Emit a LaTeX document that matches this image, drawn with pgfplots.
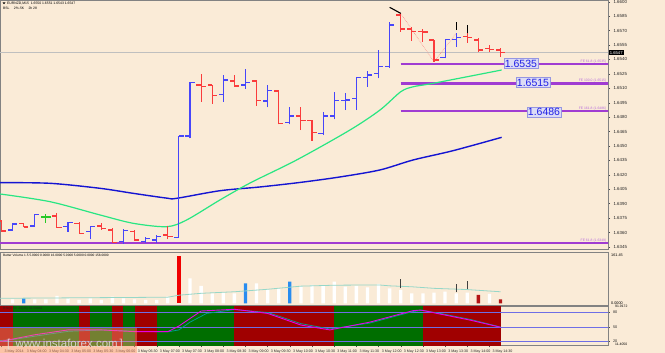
\documentclass[border=0pt]{standalone}
\usepackage{pgfplots}
\pgfplotsset{compat=1.18}
\usepackage{pgfplotstable}
\usepackage{fontspec}
\setmainfont{Liberation Sans}
\definecolor{cream}{RGB}{250,235,215}
\definecolor{upc}{RGB}{70,70,250}
\definecolor{dnc}{RGB}{250,60,60}
\definecolor{dojic}{RGB}{40,200,40}
\definecolor{maBlue}{RGB}{20,20,210}
\definecolor{maGreen}{RGB}{40,230,130}
\definecolor{lvl}{RGB}{160,60,210}
\definecolor{frame}{RGB}{130,130,130}
\definecolor{rsiRed}{RGB}{160,0,0}
\definecolor{rsiGreen}{RGB}{0,110,0}
\definecolor{rsiMag}{RGB}{230,0,230}
\definecolor{rsiTeal}{RGB}{0,160,150}
\definecolor{rsiLine}{RGB}{110,110,230}
\definecolor{volMA}{RGB}{150,215,200}
\definecolor{volBlue}{RGB}{40,140,240}
\definecolor{volRed}{RGB}{240,0,0}
\definecolor{volDark}{RGB}{180,20,20}
\definecolor{lvlText}{RGB}{30,30,230}
\definecolor{lvlBox}{RGB}{220,220,245}
\definecolor{lvlBorder}{RGB}{150,150,225}
\definecolor{salmon}{RGB}{250,140,140}
\definecolor{wm}{RGB}{255,150,110}

\pgfplotstableread{
t o h l c
1 1.63627 1.63700 1.63622 1.63689
3 1.63668 1.63793 1.63668 1.63783
6 1.63661 1.63713 1.63609 1.63703
8 1.63609 1.63668 1.63530 1.63661
11 1.63505 1.63634 1.63481 1.63620
13 1.63505 1.63557 1.63495 1.63541
14 1.63523 1.63575 1.63495 1.63557
16 1.63551 1.64609 1.63544 1.64604
17 1.64604 1.65168 1.64580 1.65162
20 1.65037 1.65238 1.64960 1.65186
22 1.65134 1.65300 1.65093 1.65162
24 1.64968 1.65134 1.64902 1.65079
26 1.64742 1.64902 1.64726 1.64812
29 1.64632 1.64857 1.64614 1.64812
30 1.64812 1.65064 1.64778 1.64971
31 1.64971 1.65048 1.64874 1.64978
32 1.64996 1.65210 1.64874 1.65210
33 1.65210 1.65283 1.65116 1.65238
34 1.65256 1.65498 1.65204 1.65324
35 1.65324 1.65792 1.65316 1.65758
40 1.65422 1.65609 1.65412 1.65609
41 1.65609 1.65672 1.65532 1.65626
}\upbars

\pgfplotstableread{
t o h l c
0 1.63720 1.63731 1.63606 1.63616
2 1.63694 1.63700 1.63653 1.63658
5 1.63772 1.63803 1.63648 1.63648
7 1.63696 1.63713 1.63585 1.63593
9 1.63668 1.63696 1.63627 1.63645
10 1.63627 1.63645 1.63495 1.63499
12 1.63609 1.63627 1.63516 1.63523
15 1.63575 1.63668 1.63530 1.63557
18 1.65134 1.65245 1.64960 1.65116
19 1.65134 1.65134 1.64937 1.65023
21 1.65176 1.65238 1.65116 1.65124
23 1.65176 1.65176 1.64916 1.64971
25 1.65072 1.65079 1.64726 1.64736
27 1.64812 1.64902 1.64666 1.64763
28 1.64763 1.64770 1.64552 1.64642
36 1.65862 1.65879 1.65688 1.65716
37 1.65716 1.65740 1.65595 1.65688
38 1.65695 1.65713 1.65584 1.65685
39 1.65602 1.65602 1.65376 1.65394
42 1.65643 1.65672 1.65574 1.65626
43 1.65602 1.65620 1.65480 1.65498
44 1.65516 1.65550 1.65480 1.65505
45 1.65498 1.65516 1.65428 1.65470
}\dnbars

\pgfplotstableread{
t o h l c
4 1.63762 1.63793 1.63700 1.63762
}\dojibars

\pgfplotstableread{
t l h
41 1.65706 1.65792
42 1.65672 1.65758
}\fract

\pgfplotstableread{
t v
1 12.8
3 12.8
4 12.8
5 23.4
6 16
7 10.6
8 16
9 10.6
10 21.2
11 16
12 12.8
13 10.6
14 10.6
15 21.2
17 80.3
18 55.5
19 32.1
20 34
21 32.1
23 64.2
24 44.9
25 48.2
27 55.5
28 58.7
29 55.5
30 69.3
31 53.3
32 55.5
33 51.4
34 62
35 48.2
36 42.7
37 32.1
38 32.1
39 34
40 37.2
41 32.1
42 34
44 29.9
}\volw

\pgfplotstableread{
t v
2 16
22 64.2
26 69.3
}\volb

\pgfplotstableread{
t v
16 151.8
}\volr

\pgfplotstableread{
t v
43 26.6
45 12.8
}\vold

\pgfplotstableread{
t l h
36 48 77
41 37 62
42 45 72.5
}\volk

\pgfplotsset{
  hl/.style={draw=none, mark=none, error bars/.cd, y dir=plus, y explicit, error mark=none, error bar style={draw=#1, line width=1.1pt}},
  op/.style={draw=none, mark=none, error bars/.cd, x dir=minus, x fixed=0.42, error mark=none, error bar style={draw=#1, line width=1.1pt}},
  cl/.style={draw=none, mark=none, error bars/.cd, x dir=plus, x fixed=0.42, error mark=none, error bar style={draw=#1, line width=1.1pt}},
  panel/.style={scale only axis, width=608pt, xmin=-0.135, xmax=54.69,
    axis line style={draw=frame, line width=0.8pt},
    tick style={draw=black!70, line width=0.4pt},
    /pgf/number format/assume math mode=true,
    tick label style={font=\fontsize{4.4}{5}\selectfont, text=black!85},
    xtick=\empty, anchor=south west},
}
\tikzset{
  lbox/.style={fill=lvlBox, draw=lvlBorder, text=lvlText, font=\fontsize{10.5}{12}\selectfont, inner xsep=1pt, inner ysep=1.3pt, line width=0.6pt},
  fe/.style={anchor=south east, text=lvl!75, font=\fontsize{3.4}{4}\selectfont, inner sep=0.6pt},
}

\begin{document}
\begin{tikzpicture}
\path[use as bounding box, fill=cream] (0,0) rectangle (665pt,353pt);

% ---------------- main price panel ----------------
\begin{axis}[panel, at={(0pt,104pt)}, height=249pt,
  ymin=1.63429, ymax=1.66018, scaled y ticks=false,
  ytick={1.6345,1.6360,1.6375,1.6390,1.6405,1.6420,1.6435,1.6450,1.6465,1.6480,1.6495,1.6510,1.6525,1.6540,1.6555,1.6570,1.6585,1.6600},
  ytick pos=right, yticklabel pos=right, tick align=outside, major tick length=2pt,
  yticklabel style={/pgf/number format/.cd, fixed, fixed zerofill, precision=4}]
\addplot[draw=lvl, line width=2.2pt] coordinates {(-0.2,1.63492)(54.8,1.63492)};
\addplot[draw=lvl, line width=2.2pt] coordinates {(36,1.6535)(54.8,1.6535)};
\addplot[draw=lvl, line width=2.2pt] coordinates {(36,1.6515)(54.8,1.6515)};
\addplot[draw=lvl, line width=2.2pt] coordinates {(36,1.6486)(54.8,1.6486)};
\addplot[black!25, line width=0.6pt] coordinates {(-0.2,1.6547)(54.8,1.6547)};
\addplot[maBlue, line width=1.4pt, smooth] coordinates {(-0.13,1.64119) (4.37,1.64112) (8.88,1.64060) (11.86,1.64008) (14.9,1.63958) (15.8,1.63956) (19.7,1.64035) (23.31,1.64074) (26.92,1.64121) (30.52,1.64178) (34.13,1.64251) (37.13,1.64355) (40.71,1.64451) (45.1,1.64590)};
\addplot[maGreen, line width=1.2pt, smooth] coordinates {(-0.13,1.64001) (4.37,1.63921) (8.88,1.63783) (11.88,1.63696) (14.9,1.63661) (16.7,1.63731) (19.7,1.63939) (22.41,1.64115) (26.62,1.64355) (31.42,1.64666) (34.13,1.64874) (36.0,1.65064) (37.13,1.65116) (38.94,1.65152) (45.1,1.65290)};
\addplot[salmon, densely dotted, line width=0.6pt] coordinates {(36,1.65879)(39,1.65376)(41,1.65672)};
% OHLC bars
\addplot[hl=upc] table[x=t, y=l, y error expr=\thisrow{h}-\thisrow{l}] {\upbars};
\addplot[op=upc] table[x=t, y=o] {\upbars};
\addplot[cl=upc] table[x=t, y=c] {\upbars};
\addplot[hl=dnc] table[x=t, y=l, y error expr=\thisrow{h}-\thisrow{l}] {\dnbars};
\addplot[op=dnc] table[x=t, y=o] {\dnbars};
\addplot[cl=dnc] table[x=t, y=c] {\dnbars};
\addplot[hl=dojic] table[x=t, y=l, y error expr=\thisrow{h}-\thisrow{l}] {\dojibars};
\addplot[op=dojic] table[x=t, y=o] {\dojibars};
\addplot[cl=dojic] table[x=t, y=c] {\dojibars};
\addplot[black, line width=1.1pt] coordinates {(35,1.65942)(36,1.65879)};
\addplot[hl=black] table[x=t, y=l, y error expr=\thisrow{h}-\thisrow{l}] {\fract};
\node[lbox] at (axis cs:46.84,1.65358) {1.6535};
\node[lbox] at (axis cs:47.93,1.65160) {1.6515};
\node[lbox] at (axis cs:48.92,1.64853) {1.6486};
\node[fe] at (axis cs:54.6,1.6535) {FE 61.8 (1.6535)};
\node[fe] at (axis cs:54.6,1.6515) {FE 100.0 (1.6515)};
\node[fe] at (axis cs:54.6,1.6486) {FE 161.8 (1.6486)};
\node[fe] at (axis cs:54.6,1.63492) {FE 61.8 (1.6349)};
\coordinate (cp) at (axis cs:54.69,1.6547);
\end{axis}
\node[anchor=west, fill=black, text=white, font=\fontsize{4.2}{5}\selectfont, inner xsep=1pt, inner ysep=0.8pt] at ([xshift=0.6pt]cp) {1.6547};

% ---------------- volume panel ----------------
\begin{axis}[panel, at={(0pt,48pt)}, height=52.3pt, ymin=-5.5, ymax=162.4, ytick=\empty]
\addplot[ybar, bar width=3.3pt, bar shift=0pt, fill=white, draw=none] table[x=t, y=v] {\volw};
\addplot[ybar, bar width=3.3pt, bar shift=0pt, fill=volBlue, draw=none] table[x=t, y=v] {\volb};
\addplot[ybar, bar width=3.3pt, bar shift=0pt, fill=volRed, draw=none] table[x=t, y=v] {\volr};
\addplot[ybar, bar width=3.3pt, bar shift=0pt, fill=volDark, draw=none] table[x=t, y=v] {\vold};
\addplot[volMA, line width=0.8pt] coordinates {(-0.13,16) (15,19.5) (16,26) (18,32) (21,37) (24,45) (27,55) (30,58) (34,59) (35,56) (37,53) (39,48) (42,44) (45,37)};
\addplot[hl=black!75] table[x=t, y=l, y error expr=\thisrow{h}-\thisrow{l}] {\volk};
\end{axis}

% ---------------- RSI panel ----------------
\begin{axis}[panel, at={(0pt,7.3pt)}, height=39pt, ymin=11.41, ymax=91.92,
  ytick={20,50,80}, ytick pos=right, yticklabel pos=right, tick align=outside, major tick length=1.6pt,
  xtick={0,2,...,44}, xtick pos=bottom,
  xticklabels={3 May 2014,3 May 04:00,3 May 04:30,3 May 05:00,3 May 05:30,3 May 06:00,3 May 06:30,3 May 07:00,3 May 07:30,3 May 08:00,3 May 08:30,3 May 09:00,3 May 09:30,3 May 10:00,3 May 10:30,3 May 11:00,3 May 11:30,3 May 12:00,3 May 12:30,3 May 13:00,3 May 13:30,3 May 14:00,3 May 14:30},
  xticklabel style={anchor=north west, xshift=-0.3pt, yshift=1.2pt, font=\fontsize{3.6}{4}\selectfont},
  yticklabel style={font=\fontsize{3.8}{4}\selectfont}]
\addplot[fill=rsiRed, draw=none] coordinates {(-0.2,95)(1,95)} \closedcycle;
\addplot[fill=rsiGreen, draw=none] coordinates {(1,95)(7,95)} \closedcycle;
\addplot[fill=rsiRed, draw=none] coordinates {(7,95)(8,95)} \closedcycle;
\addplot[fill=rsiGreen, draw=none] coordinates {(8,95)(10,95)} \closedcycle;
\addplot[fill=rsiRed, draw=none] coordinates {(10,95)(11,95)} \closedcycle;
\addplot[fill=rsiGreen, draw=none] coordinates {(11,95)(12,95)} \closedcycle;
\addplot[fill=rsiRed, draw=none] coordinates {(12,95)(14,95)} \closedcycle;
\addplot[fill=rsiGreen, draw=none] coordinates {(14,95)(21,95)} \closedcycle;
\addplot[fill=rsiRed, draw=none] coordinates {(21,95)(30,95)} \closedcycle;
\addplot[fill=rsiGreen, draw=none] coordinates {(30,95)(38,95)} \closedcycle;
\addplot[fill=rsiRed, draw=none] coordinates {(38,95)(45,95)} \closedcycle;
\addplot[rsiLine, line width=0.6pt] coordinates {(-0.2,80)(54.8,80)};
\addplot[rsiLine, line width=0.6pt] coordinates {(-0.2,50)(54.8,50)};
\addplot[rsiLine, line width=0.6pt] coordinates {(-0.2,20)(54.8,20)};
\addplot[rsiTeal, line width=0.7pt] coordinates {(-0.13,22) (1,24) (3,31) (6,41) (9,44) (12,41) (15,40) (16,44) (17,60) (18.5,78) (21,86) (24,80) (27,57) (29.6,46) (33.2,58) (37.1,82) (38,84.5) (39.8,77) (42.4,65) (45,50)};
\addplot[rsiMag, line width=0.9pt] coordinates {(-0.13,20) (1,25) (3,34) (6,44) (9,44) (12,40.5) (15,40.5) (16,52) (18,83) (21,86.6) (24,78) (27,54) (29.6,44) (33.2,60) (37.1,83.7) (37.8,85) (39.5,77) (42.2,64.5) (45,49.5)};
\end{axis}

% ---------------- texts ----------------
\fill[black] (2.5pt,350.6pt) -- (5.5pt,350.6pt) -- (4pt,348.8pt) -- cycle;
\node[anchor=west, font=\fontsize{3.4}{4}\selectfont, inner sep=0pt] at (7pt,349.8pt) {EURNZD,M15 \ 1.6550 1.6551 1.6543 1.6547};
\node[anchor=west, font=\fontsize{3.4}{4}\selectfont, inner sep=0pt] at (3pt,344.6pt) {BSL \quad 2\%-5K \quad 2h 28};
\node[anchor=west, font=\fontsize{3.2}{4}\selectfont, inner sep=0pt] at (3pt,97.2pt) {Better Volume 1.5 5.0000 0.0000 16.0000 5.0000 5.0000 0.0000 158.0000};
\node[anchor=west, font=\fontsize{3.2}{4}\selectfont, text=black!85, inner sep=0pt] at (3pt,44pt) {RSI(2) 50 .23(45) 33.58934};
\node[anchor=west, font=\fontsize{3.8}{4}\selectfont, inner sep=0pt] at (611pt,98.3pt) {161.45};
\node[anchor=west, font=\fontsize{3.8}{4}\selectfont, inner sep=0pt] at (611pt,49.6pt) {0.0000};
\node[anchor=west, font=\fontsize{3.4}{4}\selectfont, inner sep=0pt] at (615pt,46.4pt) {91.9172};
\node[anchor=west, font=\fontsize{3.4}{4}\selectfont, inner sep=0pt] at (615pt,8.3pt) {11.4050};

% ---------------- watermark ----------------
\fill[wm, opacity=0.45] (0pt,0pt) rectangle (137pt,25pt);
\node[anchor=base west, text=white!88!black, opacity=0.85, font=\fontsize{11.5}{12}\selectfont, inner sep=0pt] at (7pt,5.5pt) {[\, www.instaforex.com\,]};
\end{tikzpicture}
\end{document}
